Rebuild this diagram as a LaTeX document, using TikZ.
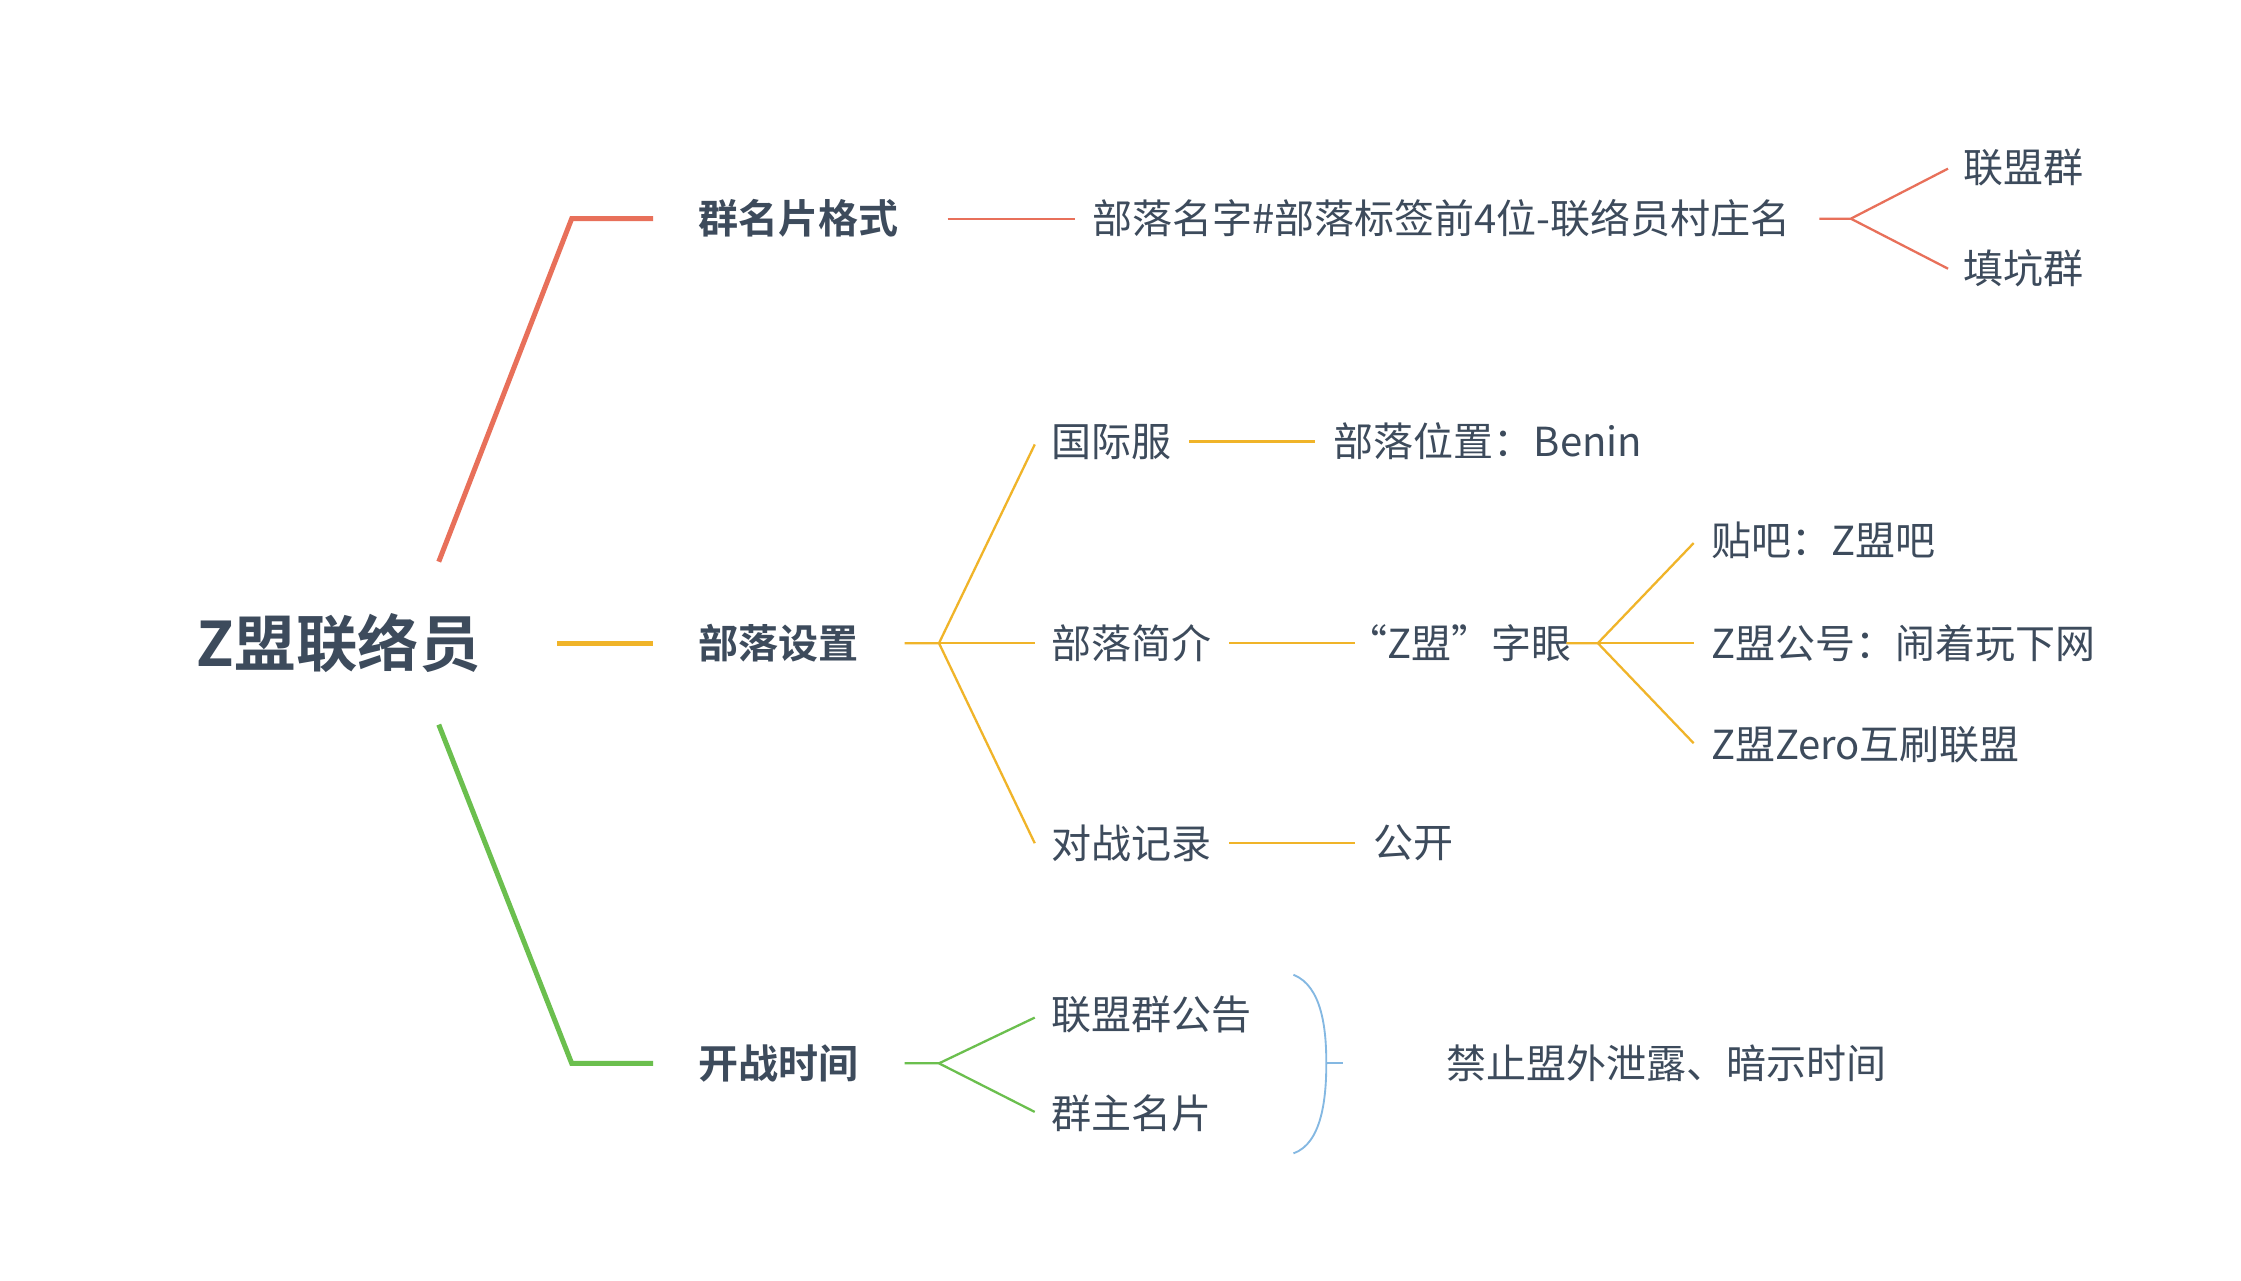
\documentclass[tikz,border=0pt]{standalone}
\usepackage{fontspec}
\setmainfont{Noto Sans CJK SC}
\newfontfamily\cjkb{Noto Sans CJK SC Bold}
\definecolor{tx}{HTML}{3D4B5C}
\definecolor{rd}{HTML}{E8705A}
\definecolor{og}{HTML}{F0B429}
\definecolor{gn}{HTML}{6BBF4E}
\definecolor{bl}{HTML}{84B8E2}
\begin{document}
\begin{tikzpicture}[x=1pt,y=-1pt,
  t/.style={text=tx,font=\fontsize{28}{30}\selectfont,inner sep=0pt},
  b/.style={text=tx,font=\cjkb\fontsize{28}{30}\selectfont,inner sep=0pt},
  l/.style={line width=1.6pt},
  m/.style={line width=3.5pt}]
\useasboundingbox (0,0) rectangle (1568,896);
\fill[white] (0,0) rectangle (1568,896);
\node[text=tx,font=\cjkb\fontsize{43}{46}\selectfont,inner sep=0pt] (root) at (237,450) {Z盟联络员};
% red
\node[b] (a) at (559,153) {群名片格式};
\draw[m,rd] (307,393) coordinate(r0) -- (400,153) -- (457,153);
\node[t,anchor=west] (a1) at (764,153) {部落名字\#部落标签前4位-联络员村庄名};
\draw[l,rd] (663,153) -- (752,153);
\node[t] (a11) at (1416,117) {联盟群};
\node[t] (a12) at (1416,188) {填坑群};
\coordinate (fa) at (1295,153);
\draw[l,rd] (1273,153) -- (fa) -- (1363,118);
\draw[l,rd] (fa) -- (1363,188);
% orange
\node[b] (b) at (545,450) {部落设置};
\draw[m,og] (390,450) -- (457,450);
\coordinate (fb) at (657,450);
\node[t] (b1) at (778,309) {国际服};
\node[t] (b2) at (792,450) {部落简介};
\node[t] (b3) at (792,590) {对战记录};
\draw[l,og] (633,450) -- (fb) -- (724,311);
\draw[l,og] (fb) -- (724,450);
\draw[l,og] (fb) -- (724,590);
\node[t,anchor=west] (b11) at (933,309) {部落位置：Benin};
\draw[l,og] (832,309) -- (920,309);
\node[t] (b21) at (1021,450) {“Z盟”字眼};
\draw[l,og] (860,450) -- (948,450);
\node[t] (b31) at (989,590) {公开};
\draw[l,og] (860,590) -- (948,590);
\coordinate (fc) at (1118,450);
\draw[l,og] (1096,450) -- (fc) -- (1185,380);
\draw[l,og] (fc) -- (1185,450);
\draw[l,og] (fc) -- (1185,520);
\node[t,anchor=west] (c1) at (1197,378) {贴吧：Z盟吧};
\node[t,anchor=west] (c2) at (1197,450) {Z盟公号：闹着玩下网};
\node[t,anchor=west] (c3) at (1197,521) {Z盟Zero互刷联盟};
% green
\node[b] (g) at (545,744) {开战时间};
\draw[m,gn] (307,507) -- (400,744) -- (457,744);
\coordinate (fg) at (657,744);
\draw[l,gn] (633,744) -- (fg) -- (724,712);
\draw[l,gn] (fg) -- (724,778);
\node[t] (g1) at (806,710) {联盟群公告};
\node[t] (g2) at (792,779) {群主名片};
\draw[line width=1.3pt,bl] (905,682) .. controls (925,690) and (928,720) .. (928,744)
  .. controls (928,768) and (925,800) .. (905,807);
\draw[line width=1.3pt,bl] (928,744) -- (940,744);
\node[t] (g3) at (1166,744) {禁止盟外泄露、暗示时间};
\end{tikzpicture}
\end{document}
